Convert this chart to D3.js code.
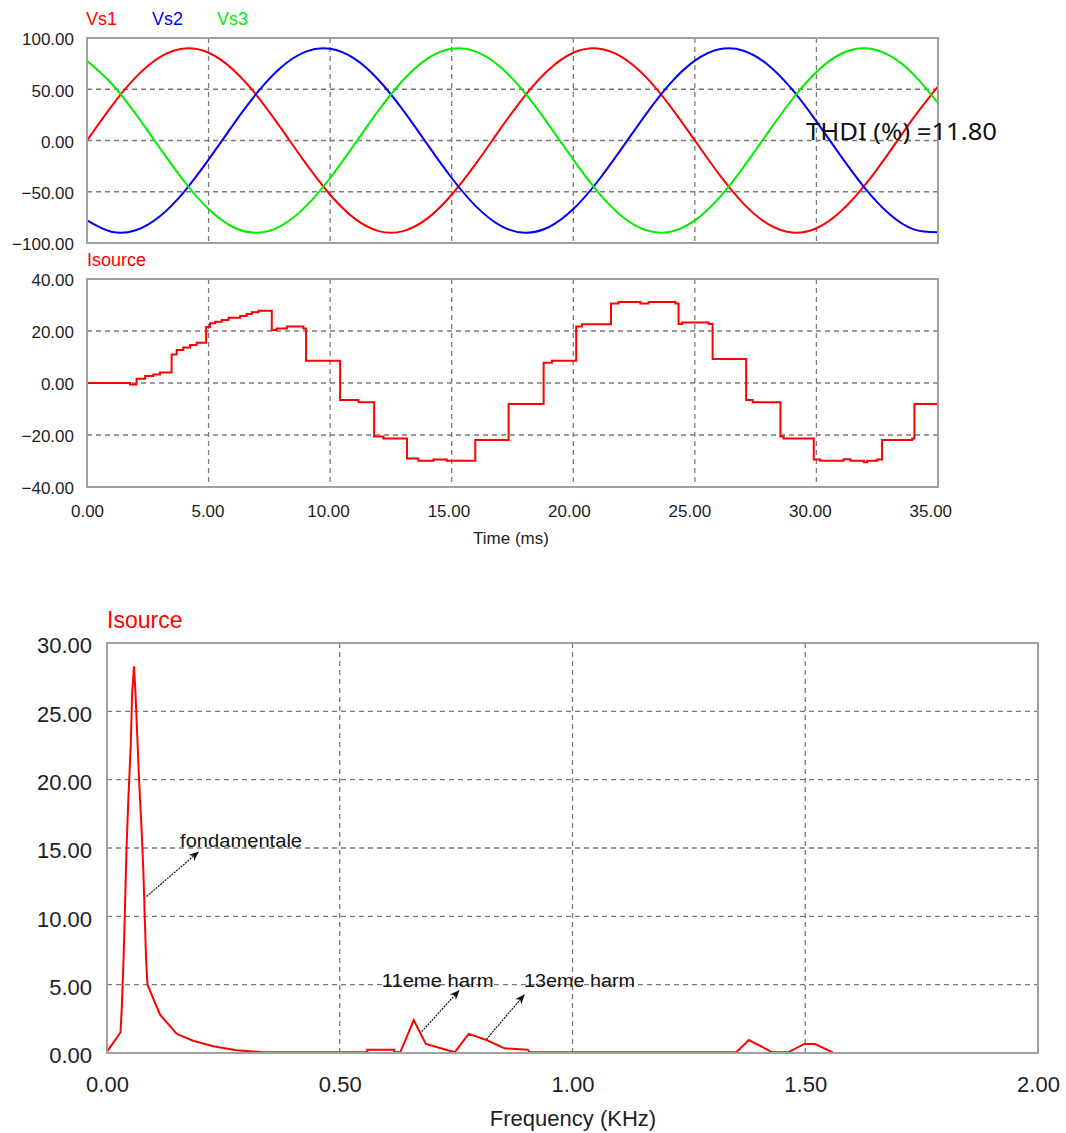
<!DOCTYPE html>
<html><head><meta charset="utf-8">
<script src="https://cdn.jsdelivr.net/npm/d3@7"></script>
<style>body{margin:0;background:#fff}</style>
</head><body><svg id="c" width="1066" height="1133"></svg>
<script>
// ---------- data ----------
const timeMs = [0,1,2,3,4,5,6,7,8,9,10,11,12,13,14,15,16,17,18,19,20,21,22,23,24,25,26,27,28,29,30,31,32,33,34,35];
const vs1 = [0,33.1,61.6,81.4,89.8,85.6,69.3,43.4,11.3,-22.4,-52.9,-76.0,-88.4,-88.4,-76.0,-52.9,-22.4,11.3,43.4,69.3,85.6,89.8,81.4,61.6,33.1,0,-33.1,-61.6,-81.4,-89.8,-85.6,-69.3,-43.4,-11.3,22.4,52.9];
const vs2 = [-77.9,-89.0,-87.6,-73.9,-49.8,-18.7,15.0,46.6,71.7,86.7,89.5,79.8,58.8,29.6,-3.8,-36.6,-64.3,-83.0,-90.0,-84.4,-66.9,-40.0,-7.5,26.0,55.9,77.9,89.0,87.6,73.9,49.8,18.7,-15.0,-46.6,-71.7,-86.7,-89.5];
const vs3 = [77.9,55.9,26.0,-7.5,-40.0,-66.9,-84.4,-90.0,-83.0,-64.3,-36.6,-3.8,29.6,58.8,79.8,89.5,86.7,71.7,46.6,15.0,-18.7,-49.8,-73.9,-87.6,-89.0,-77.9,-55.9,-26.0,7.5,40.0,66.9,84.4,90.0,83.0,64.3,36.6];
const seriesNames = ["Vs1","Vs2","Vs3"];
const seriesColors = ["#ff0000","#0000ff","#00ee00"];

const isrcT = [0,1.77,2.04,2.39,2.73,3.00,3.48,3.69,3.96,4.24,4.51,4.90,5.06,5.27,5.54,5.82,6.30,6.57,6.78,7.05,7.60,7.81,8.22,8.90,9.01,10.41,11.17,11.81,12.19,13.16,13.63,14.25,14.80,15.97,17.34,18.78,19.12,20.12,20.36,21.55,21.86,22.76,23.10,24.20,24.33,24.47,25.57,25.73,27.11,27.38,28.52,28.65,29.89,30.16,31.12,31.40,31.95,32.09,32.50,32.70,33.94,34.03,35];
const isrcV = [0,-0.6,1.6,2.7,3.3,4.0,11.0,12.7,13.7,14.6,15.5,21.5,23.0,23.6,24.2,25.1,25.8,26.5,27.2,27.8,20.4,21.0,21.7,21.0,8.6,-6.5,-7.4,-20.6,-21.3,-29.0,-29.9,-29.4,-29.9,-21.9,-8.1,7.8,8.6,21.7,22.6,30.6,31.2,30.6,31.2,30.6,22.7,23.3,22.7,9.2,-6.5,-7.4,-20.6,-21.3,-29.4,-29.9,-29.3,-29.9,-30.5,-29.9,-29.4,-21.9,-21.3,-8.1,-8.1];

const freqKHz = [0,0.029,0.032,0.036,0.039,0.042,0.046,0.051,0.054,0.058,0.061,0.065,0.069,0.074,0.078,0.081,0.084,0.087,0.114,0.150,0.185,0.228,0.278,0.335,0.559,0.559,0.617,0.617,0.630,0.659,0.685,0.747,0.777,0.815,0.854,0.904,0.908,1.352,1.379,1.429,1.463,1.498,1.521,1.559];
const specAmp = [0.1,1.5,3.5,7.3,11.1,15.0,18.7,22.5,26.3,28.3,26.5,23.2,19.9,16.6,13.4,10.1,6.8,5.0,2.8,1.4,0.9,0.5,0.2,0.05,0.05,0.24,0.24,0.05,0.05,2.4,0.66,0.05,1.4,0.95,0.34,0.24,0.05,0.05,0.95,0.05,0.05,0.66,0.66,0.05];

const vTicks = [-100,-50,0,50,100];
const iTicks = [-40,-20,0,20,40];
const tTicks = [0,5,10,15,20,25,30,35];
const sTicks = [0,5,10,15,20,25,30];
const fTicks = [0,0.5,1.0,1.5,2.0];

const annotText = ["fondamentale","11eme harm","13eme harm"];
const annotTextPos = [[0.157,15.1],[0.590,4.85],[0.896,4.8]];
const annotArrowFrom = [[0.085,11.45],[0.676,1.56],[0.815,1.0]];
const annotArrowTo = [[0.196,14.7],[0.756,4.56],[0.896,4.24]];
const annotWidths = [122,112,111];

// ---------- drawing ----------
const svg = d3.select("#c");
const FONT = "'Liberation Sans', Arial, sans-serif";
const TXT = "#1e1e1e";

function frame(x, y, xTicks, yTicks, o){
  const [x0,x1] = x.range(), [y1,y0] = y.range();
  const g = svg.append("g");
  g.append("rect").attr("x",x0).attr("y",y0).attr("width",x1-x0).attr("height",y1-y0)
    .attr("fill","#fff");
  const inX = xTicks.slice(1,-1), inY = yTicks.slice(1,-1);
  g.selectAll(".gv").data(inX).join("line")
    .attr("x1",d=>x(d)).attr("x2",d=>x(d)).attr("y1",y0).attr("y2",y1)
    .attr("stroke","#7a7a7a").attr("stroke-width",1.3).attr("stroke-dasharray","5,4");
  g.selectAll(".gh").data(inY).join("line")
    .attr("y1",d=>y(d)).attr("y2",d=>y(d)).attr("x1",x0).attr("x2",x1)
    .attr("stroke","#7a7a7a").attr("stroke-width",1.3).attr("stroke-dasharray","5,4");
  const ya = g.append("g").attr("transform",`translate(${x0},0)`)
    .call(d3.axisLeft(y).tickValues(yTicks).tickSize(0).tickPadding(o.yPad).tickFormat(d3.format(".2f")));
  ya.select(".domain").remove();
  ya.selectAll("text").attr("font-family",FONT).attr("font-size",o.fs).attr("fill",TXT).attr("dy",o.ydy);
  if(o.xLabels){
    const xa = g.append("g").attr("transform",`translate(0,${y1})`)
      .call(d3.axisBottom(x).tickValues(xTicks).tickSize(0).tickPadding(o.xPad).tickFormat(d3.format(".2f")));
    xa.select(".domain").remove();
    xa.selectAll("text").attr("font-family",FONT).attr("font-size",o.fs).attr("fill",TXT)
      .attr("dx",(d,i)=> -i*(o.xShift||0));
  }
  return g;
}
function border(x,y){
  const [x0,x1] = x.range(), [y1,y0] = y.range();
  svg.append("rect").attr("x",x0).attr("y",y0).attr("width",x1-x0).attr("height",y1-y0)
    .attr("fill","none").attr("stroke","#a0a0a0").attr("stroke-width",2);
}

// Panel 1: voltages
const x1s = d3.scaleLinear().domain([0,35]).range([87,938]);
const y1s = d3.scaleLinear().domain([-100,100]).range([243,38]);
frame(x1s,y1s,tTicks,vTicks,{fs:17,yPad:13,ydy:"0.4em"});
[vs1,vs2,vs3].forEach((s,i)=>{
  svg.append("path").datum(s).attr("fill","none").attr("stroke",seriesColors[i]).attr("stroke-width",2)
    .attr("d",d3.line().x((d,j)=>x1s(timeMs[j])).y(d=>y1s(d)).curve(d3.curveNatural));
});
border(x1s,y1s);
const legX = [86,152,217];
seriesNames.forEach((n,i)=>{
  svg.append("text").attr("x",legX[i]).attr("y",25).text(n)
    .attr("font-family",FONT).attr("font-size",18).attr("fill",seriesColors[i]);
});
svg.append("text").attr("x",806).attr("y",140).text("THDI (%) =11.80")
  .attr("font-family","'Noto Sans', 'Open Sans', sans-serif").attr("font-size",24).attr("fill","#111")
  .attr("textLength",191).attr("lengthAdjust","spacingAndGlyphs");

// Panel 2: source current
const x2s = d3.scaleLinear().domain([0,35]).range([87,938]);
const y2s = d3.scaleLinear().domain([-40,40]).range([487,279]);
frame(x2s,y2s,tTicks,iTicks,{fs:17,yPad:13,ydy:"0.4em",xLabels:true,xPad:18,xShift:1.1});
svg.append("path").datum(isrcV).attr("fill","none").attr("stroke","#ff0000").attr("stroke-width",2)
  .attr("d",d3.line().x((d,j)=>x2s(isrcT[j])).y(d=>y2s(d)).curve(d3.curveStepAfter));
border(x2s,y2s);
svg.append("text").attr("x",87).attr("y",266).text("Isource")
  .attr("font-family",FONT).attr("font-size",18).attr("fill","#ff0000");
svg.append("text").attr("x",511).attr("y",544).attr("text-anchor","middle").text("Time  (ms)")
  .attr("font-family",FONT).attr("font-size",17).attr("fill",TXT);

// Panel 3: spectrum
const x3s = d3.scaleLinear().domain([0,2]).range([107,1038]);
const y3s = d3.scaleLinear().domain([0,30]).range([1053,643]);
frame(x3s,y3s,fTicks,sTicks,{fs:22,yPad:15,ydy:"0.45em",xLabels:true,xPad:23});
svg.append("path").datum(specAmp).attr("fill","none").attr("stroke","#ff0000").attr("stroke-width",2)
  .attr("d",d3.line().x((d,j)=>x3s(freqKHz[j])).y(d=>y3s(d)));
border(x3s,y3s);
svg.append("text").attr("x",107).attr("y",628).text("Isource")
  .attr("font-family",FONT).attr("font-size",23).attr("fill","#ff0000");
svg.append("text").attr("x",573).attr("y",1126).attr("text-anchor","middle").text("Frequency  (KHz)")
  .attr("font-family",FONT).attr("font-size",22).attr("fill",TXT);

// annotations
const defs = svg.append("defs");
defs.append("marker").attr("id","ah").attr("viewBox","0 0 10 8").attr("refX",9).attr("refY",4)
  .attr("markerWidth",10).attr("markerHeight",8).attr("markerUnits","userSpaceOnUse").attr("orient","auto")
  .append("path").attr("d","M0,0 L10,4 L0,8 L3,4 Z").attr("fill","#111");
annotText.forEach((t,i)=>{
  svg.append("line")
    .attr("x1",x3s(annotArrowFrom[i][0])).attr("y1",y3s(annotArrowFrom[i][1]))
    .attr("x2",x3s(annotArrowTo[i][0])).attr("y2",y3s(annotArrowTo[i][1]))
    .attr("stroke","#111").attr("stroke-width",1.2).attr("stroke-dasharray","2,1")
    .attr("marker-end","url(#ah)");
  svg.append("text").attr("x",x3s(annotTextPos[i][0])).attr("y",y3s(annotTextPos[i][1])).text(t)
    .attr("font-family",FONT).attr("font-size",18).attr("fill","#111")
    .attr("textLength",annotWidths[i]).attr("lengthAdjust","spacingAndGlyphs");
});
</script></body></html>
